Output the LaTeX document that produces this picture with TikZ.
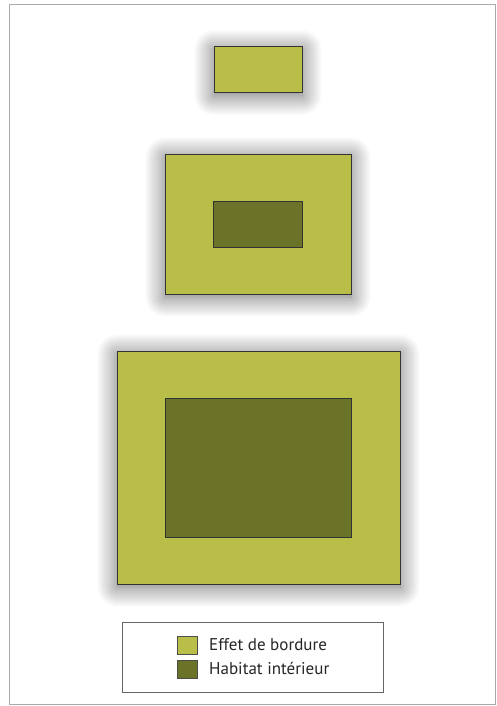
\documentclass[tikz,border=0pt]{standalone}
\usepackage{fontspec}
\setmainfont{PT Sans}
\usetikzlibrary{shadows.blur,positioning}
\definecolor{edgegreen}{RGB}{184,190,72}
\definecolor{coregreen}{RGB}{106,115,40}
\definecolor{framegray}{RGB}{170,170,170}

\begin{document}
\begin{tikzpicture}[x=1pt, y=-1pt,
  patch/.style={draw=black!80, line width=0.7pt, fill=edgegreen, inner sep=0pt,
    blur shadow={shadow xshift=0pt, shadow yshift=-3pt, shadow blur radius=20pt, shadow blur steps=20, shadow opacity=60}},
  core/.style={draw=black!80, line width=0.7pt, fill=coregreen, inner sep=0pt},
  swatch/.style={draw=black!70, line width=0.5pt, inner sep=0pt, minimum width=20pt, minimum height=18pt},
  caption/.style={anchor=base west, inner sep=0pt, font=\fontsize{17}{19}\selectfont, text=black!85},
]
\useasboundingbox (0,0) rectangle (496,706);
\draw[framegray, line width=1pt] (9,5) rectangle (495,704);
% three fragments
\node[patch, minimum width=88pt, minimum height=46pt] (small) at (258,69.5) {};
\node[patch, minimum width=186pt, minimum height=140pt] (mid) at (258,224) {};
\node[core, minimum width=89pt, minimum height=46pt] (midcore) at (mid.center) {};
\node[patch, minimum width=283pt, minimum height=233pt] (big) at (258.5,467.5) {};
\node[core, minimum width=186pt, minimum height=139pt] (bigcore) at (big.center) {};
% legend
\node[draw=black!60, line width=0.6pt, minimum width=261pt, minimum height=70pt, inner sep=0pt] (legend) at (252.5,657) {};
\node[swatch, fill=edgegreen] (keyedge) at (187,645) {};
\node[swatch, fill=coregreen] (keycore) at (187,669) {};
\node[caption] (txtedge) at (209,650.5) {Effet de bordure};
\node[caption] (txtcore) at (209,674.5) {Habitat intérieur};
\end{tikzpicture}
\end{document}
